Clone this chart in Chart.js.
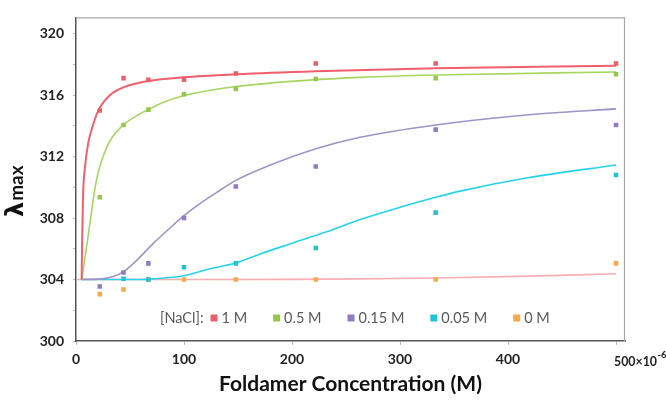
<!DOCTYPE html>
<html>
<head>
<meta charset="utf-8">
<script src="https://cdn.jsdelivr.net/npm/chart.js@4"></script>
<style>
html,body{margin:0;padding:0;background:#fff;}
#wrap{width:666px;height:408px;position:relative;}
</style>
</head>
<body>
<div id="wrap"><canvas id="c" width="666" height="408"></canvas></div>
<script>
// ---- measured data (x in µM) ----
const concX = [22, 44, 67, 100, 148, 222, 333, 500];
const nacl1M   = [315.0, 317.1, 317.0, 317.0, 317.4, 318.05, 318.05, 318.05];
const nacl05M  = [309.35, 314.05, 315.05, 316.05, 316.4, 317.05, 317.1, 317.35];
const nacl015M = [303.55, 304.45, 305.05, 308.0, 310.05, 311.35, 313.75, 314.05];
const cyanX    = [44, 67, 100, 148, 222, 333, 500];
const nacl005M = [304.05, 304.0, 304.8, 305.05, 306.05, 308.35, 310.8];
const nacl0M   = [303.05, 303.35, 304.0, 304.0, 304.0, 304.0, 304.0, 305.05];

// fitted curves
const fit1MX  = [5.2, 5.8, 6.6, 8.3, 11.4, 16, 20.7, 31.5, 43.8, 65.4, 99.4, 148, 222, 333, 500];
const fit1MY  = [304.0, 307.0, 309.6, 311.3, 312.9, 314.1, 315.0, 316.0, 316.5, 316.9, 317.15, 317.35, 317.55, 317.75, 317.9];
const fit05MX = [5.3, 11.4, 16, 19, 22.2, 28.4, 35, 43.8, 55, 65.4, 80, 99.4, 148, 222, 263, 333, 500];
const fit05MY = [304.0, 306.9, 309.2, 310.5, 311.4, 312.6, 313.4, 314.05, 314.6, 315.0, 315.5, 315.95, 316.55, 317.0, 317.15, 317.3, 317.5];
const fit015MX = [5, 25.3, 34.5, 43.8, 56.2, 71.6, 87, 100, 115, 130, 148, 180, 222, 263, 333, 417, 500];
const fit015MY = [304.0, 304.06, 304.2, 304.5, 305.25, 306.35, 307.35, 308.15, 308.95, 309.65, 310.45, 311.45, 312.5, 313.25, 314.05, 314.7, 315.1];
const fit005MX = [5, 60, 71.6, 99.4, 124, 148, 170, 201, 232, 263, 303, 333, 355.6, 417, 500];
const fit005MY = [304.0, 304.0, 304.04, 304.24, 304.7, 305.07, 305.65, 306.38, 307.1, 307.9, 308.76, 309.35, 309.75, 310.6, 311.45];
const fit0MX  = [1, 100, 200, 263, 333, 420, 500];
const fit0MY  = [304.0, 304.0, 304.01, 304.04, 304.1, 304.22, 304.37];

const seriesLabels = ['1 M', '0.5 M', '0.15 M', '0.05 M', '0 M'];
const legendTitle = '[NaCl]:';
const xTickValues = [0, 100, 200, 300, 400, 500];
const yTickValues = [300, 304, 308, 312, 316, 320];
const xTitle = 'Foldamer Concentration (M)';
const yTitle = 'λmax';

const markerColors = ['#e8606b', '#94c84c', '#8f7bbd', '#1fc3d3', '#f8a846'];
const lineColors   = ['#f25f6c', '#a6d65e', '#9e94c8', '#25d3ea', '#f7aeb4'];

const pts = (xs, ys) => xs.map((x, i) => ({x: x, y: ys[i]}));

const fits = [[fit1MX, fit1MY], [fit05MX, fit05MY], [fit015MX, fit015MY], [fit005MX, fit005MY], [fit0MX, fit0MY]];
const scat = [[concX, nacl1M], [concX, nacl05M], [concX, nacl015M], [cyanX, nacl005M], [concX, nacl0M]];

const datasets = [];
fits.forEach((f, i) => {
  datasets.push({
    type: 'line', label: seriesLabels[i] + ' fit', data: pts(f[0], f[1]),
    borderColor: lineColors[i], borderWidth: i === 0 ? 2 : 1.6, pointRadius: 0,
    cubicInterpolationMode: 'monotone', fill: false, order: 10
  });
});
[4, 3, 2, 1, 0].forEach((i, k) => {
  datasets.push({
    type: 'scatter', label: seriesLabels[i], data: pts(scat[i][0], scat[i][1]),
    backgroundColor: markerColors[i], borderColor: markerColors[i], borderWidth: 0,
    pointStyle: 'rect', pointRadius: 3.2, order: 5 - k
  });
});

const FONT = 'Lato, "Open Sans", sans-serif';

const decor = {
  id: 'decor',
  beforeDatasetsDraw(chart) {
    const {ctx, chartArea: a} = chart;
    ctx.save();
    ctx.strokeStyle = '#a8a8a8';
    ctx.lineWidth = 1.2;
    ctx.beginPath();
    ctx.moveTo(a.left, a.top + 0.5);
    ctx.lineTo(a.right - 0.5, a.top + 0.5);
    ctx.lineTo(a.right - 0.5, a.bottom);
    ctx.stroke();
    ctx.restore();
  },
  afterDraw(chart) {
    const {ctx, scales} = chart;
    ctx.save();
    ctx.fillStyle = '#111';
    ctx.translate(23, 217);
    ctx.rotate(-Math.PI / 2);
    ctx.textBaseline = 'alphabetic';
    ctx.textAlign = 'left';
    ctx.font = 'bold 24px "DejaVu Sans", sans-serif';
    ctx.fillText(yTitle.slice(0, 1), 0, 0);
    const w = ctx.measureText(yTitle.slice(0, 1)).width;
    ctx.font = 'bold 19px ' + FONT;
    ctx.fillText(yTitle.slice(1), w + 1, 0);
    ctx.restore();

    ctx.save();
    const x500 = scales.x.getPixelForValue(500);
    ctx.fillStyle = '#222';
    ctx.font = 'bold 14px ' + FONT;
    ctx.textBaseline = 'middle';
    ctx.textAlign = 'left';
    const base = '500×10';
    ctx.fillText(base, x500 - 2, 361, 43);
    ctx.font = 'bold 10px ' + FONT;
    ctx.fillText('-6', x500 + 41.5, 355, 9);
    ctx.restore();

    ctx.save();
    ctx.font = '14.5px ' + FONT;
    ctx.fillStyle = '#5a5a5a';
    ctx.textBaseline = 'middle';
    ctx.textAlign = 'left';
    const ly = 318;
    let x = 160;
    ctx.fillText(legendTitle, x, ly);
    x += ctx.measureText(legendTitle).width + 7;
    seriesLabels.forEach((lab, i) => {
      ctx.fillStyle = markerColors[i];
      ctx.fillRect(x, ly - 3.5, 7, 7);
      x += 11;
      ctx.fillStyle = '#5a5a5a';
      ctx.fillText(lab, x, ly);
      x += ctx.measureText(lab).width + 26;
    });
    ctx.restore();
  }
};

new Chart(document.getElementById('c'), {
  data: {datasets: datasets},
  options: {
    responsive: false, animation: false,
    layout: {padding: {top: 2, right: 41, left: 0, bottom: 0}},
    plugins: {legend: {display: false}, tooltip: {enabled: false}},
    scales: {
      x: {
        type: 'linear', min: 0, max: 508.3,
        afterFit(s) { s.height = 67; },
        afterBuildTicks(s) { s.ticks = xTickValues.map(v => ({value: v})); },
        ticks: {
          includeBounds: false, color: '#222', padding: 6, maxRotation: 0,
          font: {family: FONT, size: 14, weight: 'bold'},
          callback: v => (v === 500 ? '' : String(v))
        },
        grid: {drawOnChartArea: false, tickLength: 4, color: '#bbb'},
        border: {color: '#555', width: 1.5},
        title: {display: true, text: xTitle, color: '#111',
          font: {family: FONT, size: 21, weight: 'bold'}, padding: {top: 0, bottom: 11}}
      },
      y: {
        type: 'linear', min: 300, max: 321.05,
        afterFit(s) { s.width = 76; },
        afterBuildTicks(s) {
          const t = [];
          for (let k = 0; k <= 10; k++) t.push({value: 300 + 2 * k});
          s.ticks = t;
        },
        ticks: {
          includeBounds: false, color: '#222', padding: 9,
          font: {family: FONT, size: 14, weight: 'bold'},
          callback: v => (yTickValues.includes(v) ? String(v) : '')
        },
        grid: {drawOnChartArea: false, tickLength: 3, color: '#bbb'},
        border: {color: '#555', width: 1.5}
      }
    }
  },
  plugins: [decor]
});
</script>
</body>
</html>
